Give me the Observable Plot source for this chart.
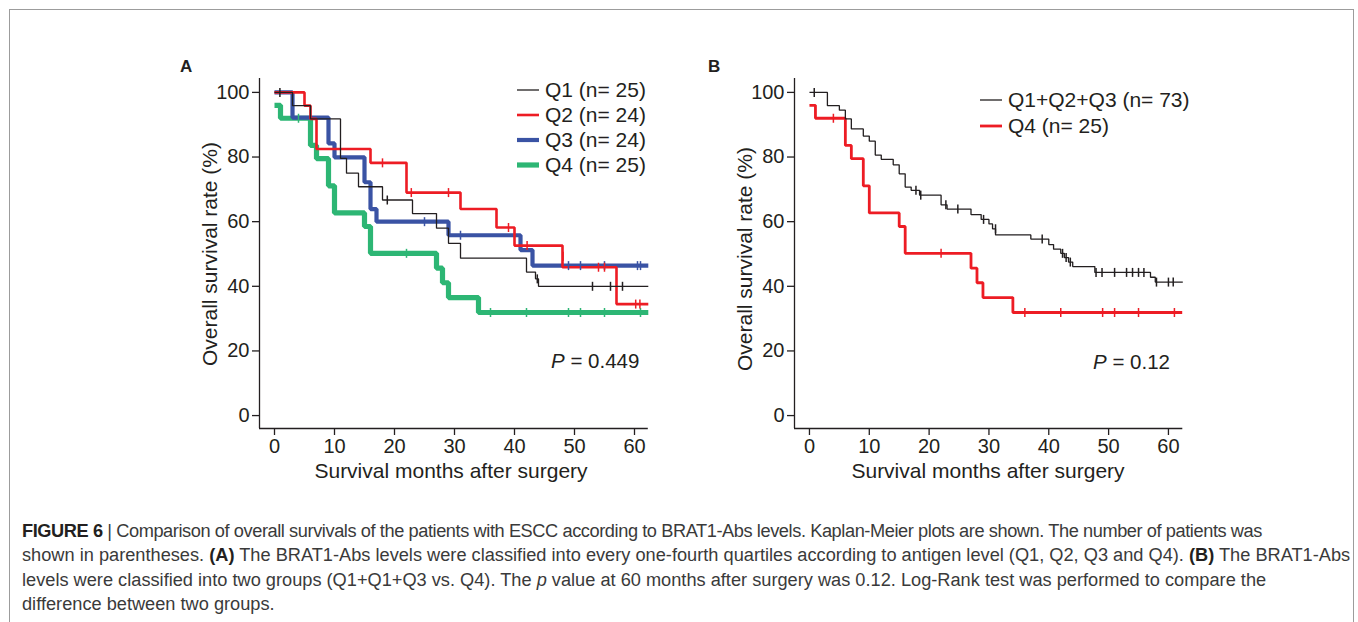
<!DOCTYPE html>
<html>
<head>
<meta charset="utf-8">
<script src="https://cdn.jsdelivr.net/npm/d3@7"></script>
<script src="https://cdn.jsdelivr.net/npm/@observablehq/plot@0.6"></script>
<style>
  html, body { margin: 0; padding: 0; background: #fff; overflow: hidden; }
  #page { position: relative; width: 1358px; height: 622px; overflow: hidden; font-family: "Liberation Sans", Arial, sans-serif; color: #231f20; }
  #frame { position: absolute; left: 9px; top: 9px; width: 1343px; height: 700px; border: 1px solid #9c9c9c; }
  .panel { position: absolute; top: 50px; width: 500px; height: 440px; }
  .txt { position: absolute; white-space: nowrap; line-height: 1; color: #231f20; }
  .leg { position: absolute; display: flex; align-items: center; height: 24px; white-space: nowrap; font-size: 21px; color: #231f20; }
  .leg svg { display: block; margin-right: 6px; }
  .cap { position: absolute; white-space: nowrap; font-family: "Liberation Sans Narrow", "Arial Narrow", "Liberation Sans", sans-serif; line-height: 1; color: #3a3a3a; }
  .cap b { color: #231f20; }
  .panel svg g[aria-label="x-axis tick"], .panel svg g[aria-label="y-axis tick"] { stroke-width: 1.3; }
</style>
</head>
<body>
<div id="page">
  <div id="frame"></div>
  <div id="panelA" class="panel" style="left:160px"></div>
  <div id="panelB" class="panel" style="left:700px"></div>
</div>
<script>
// ---------- tick labels ----------
const monthTicks = [0, 10, 20, 30, 40, 50, 60];
const rateTicks = [0, 20, 40, 60, 80, 100];

// ---------- Panel A: quartiles ----------
const aNames = ["Q1 (n= 25)", "Q2 (n= 24)", "Q3 (n= 24)", "Q4 (n= 25)"];

const aQ1Time = [0, 3, 6, 11, 12, 14, 18, 23, 27, 29, 31, 42, 43.5, 44, 62.3];
const aQ1Surv = [100, 95.9, 91.8, 79.6, 75.0, 70.8, 66.7, 62.5, 58.0, 53.3, 48.7, 44.4, 42.3, 40.0, 40.0];
const aQ1CensTime = [0.9, 18.8, 43.8, 53, 56, 58];
const aQ1CensSurv = [100, 66.7, 42.3, 40.0, 40.0, 40.0];

const aQ2Time = [0, 5, 6, 7, 16, 22, 31, 37, 40, 48, 57, 62.3];
const aQ2Surv = [100, 95.9, 91.8, 82.5, 78.2, 69.0, 63.9, 58.2, 52.6, 45.9, 34.5, 34.5];
const aQ2CensTime = [18, 22.8, 29, 39, 42.1, 48.1, 54, 55, 60.2, 60.9];
const aQ2CensSurv = [78.2, 69.0, 69.0, 58.2, 52.6, 49.3, 45.9, 45.9, 34.5, 34.5];

const aQ3Time = [0, 3, 9, 10, 15, 16, 17, 29, 41, 43, 62.3];
const aQ3Surv = [100, 92.2, 84.2, 79.9, 72.2, 63.9, 60.0, 55.8, 51.2, 46.4, 46.4];
const aQ3CensTime = [25, 31, 43, 49, 51, 55, 60.5, 61];
const aQ3CensSurv = [60.0, 55.8, 48.8, 46.4, 46.4, 46.4, 46.4, 46.4];

const q4Time = [0, 1, 6, 7, 9, 10, 15, 16, 27, 28, 29, 34, 62.3];
const q4Surv = [96, 92, 83.6, 79.5, 71.1, 62.7, 58.5, 50.2, 45.6, 41.1, 36.5, 31.9, 31.9];
const q4CensTime = [4, 22, 36, 42, 49, 51, 55, 61];
const q4CensSurv = [92, 50.2, 31.9, 31.9, 31.9, 31.9, 31.9, 31.9];

// ---------- Panel B: Q1+Q2+Q3 vs Q4 ----------
const bNames = ["Q1+Q2+Q3 (n= 73)", "Q4 (n= 25)"];
const bRestTime = [0, 3, 5, 6, 7, 9, 10, 11, 12, 14, 15, 16, 17, 18.4, 22, 23, 27, 28.7, 30, 30.6, 31.1, 37, 40, 40.8, 42, 42.6, 43.3, 44, 47.7, 57, 57.8, 62.4];
const bRestSurv = [100, 95.9, 94.5, 91.8, 88.7, 86.5, 84.9, 80.6, 79.3, 77.6, 74.8, 70.7, 69.7, 68.2, 65.2, 63.9, 62.2, 60.7, 59.3, 57.8, 55.9, 54.6, 52.9, 51.5, 50.2, 48.9, 47.5, 46.1, 44.3, 42.8, 41.3, 41.3];
const bRestCensTime = [0.8, 17.8, 18.6, 22.8, 24.8, 29.1, 31.1, 38.9, 42.3, 42.9, 43.6, 47.9, 48.9, 51, 53, 54, 55, 55.9, 58, 60, 60.8];
const bRestCensSurv = [100, 69.7, 68.2, 65.2, 63.9, 60.7, 57.8, 54.6, 50.2, 48.9, 47.5, 44.3, 44.3, 44.3, 44.3, 44.3, 44.3, 44.3, 41.3, 41.3, 41.3];

const pA = "0.449";
const pB = "0.12";

// ---------- helpers ----------
const INK = "#231f20";
const toRows = (t, s) => t.map((d, i) => ({t: d, s: s[i]}));
const vbar = {draw(ctx) { ctx.moveTo(0, -4.5); ctx.lineTo(0, 4.5); }};

function survivalPlot({xDomain, yDomain, margins, series}) {
  const marks = [
    Plot.ruleX([xDomain[0]], {stroke: INK, strokeWidth: 1.3}),
    Plot.ruleY([yDomain[0]], {stroke: INK, strokeWidth: 1.3})
  ];
  for (const s of series) {
    marks.push(Plot.line(toRows(s.time, s.surv), {x: "t", y: "s", curve: "step-after", stroke: s.color, strokeWidth: s.width, strokeLinejoin: "miter", strokeLinecap: "butt"}));
  }
  for (const s of series) {
    marks.push(Plot.dot(toRows(s.censTime, s.censSurv), {x: "t", y: "s", symbol: vbar, stroke: s.color, strokeWidth: 1.5, fill: "none"}));
  }
  return Plot.plot({
    width: 500, height: 440,
    marginLeft: margins[0], marginRight: margins[1], marginTop: margins[2], marginBottom: margins[3],
    style: {fontSize: "20px", fontFamily: "'Liberation Sans', Arial, sans-serif", color: INK, background: "transparent", overflow: "visible"},
    x: {domain: xDomain, ticks: monthTicks, tickSize: 7, tickPadding: 3, label: null},
    y: {domain: yDomain, ticks: rateTicks, tickSize: 7, tickPadding: 3, label: null},
    marks
  });
}

const RED = "#ed1c24", BLUE = "#3a53a4", GREEN = "#2db674";

const aSeries = [
  {time: q4Time, surv: q4Surv, censTime: q4CensTime, censSurv: q4CensSurv, color: GREEN, width: 5.2},
  {time: aQ3Time, surv: aQ3Surv, censTime: aQ3CensTime, censSurv: aQ3CensSurv, color: BLUE, width: 4.2},
  {time: aQ2Time, surv: aQ2Surv, censTime: aQ2CensTime, censSurv: aQ2CensSurv, color: RED, width: 2.6},
  {time: aQ1Time, surv: aQ1Surv, censTime: aQ1CensTime, censSurv: aQ1CensSurv, color: INK, width: 1.3}
];
const bSeries = [
  {time: q4Time, surv: q4Surv, censTime: q4CensTime, censSurv: q4CensSurv, color: RED, width: 2.8},
  {time: bRestTime, surv: bRestSurv, censTime: bRestCensTime, censSurv: bRestCensSurv, color: INK, width: 1.3}
];

document.getElementById("panelA").appendChild(survivalPlot({
  xDomain: [-2.5, 62.3], yDomain: [-4, 104.3], margins: [99, 12.2, 28, 62], series: aSeries
}));
document.getElementById("panelB").appendChild(survivalPlot({
  xDomain: [-2.5, 62.4], yDomain: [-4, 104.3], margins: [94, 17.7, 28, 62], series: bSeries
}));

// ---------- text overlays ----------
const page = document.getElementById("page");
function place(html, x, baseline, fs, anchor = "start") {
  const d = document.createElement("div");
  d.className = "txt";
  d.innerHTML = html;
  d.style.fontSize = fs + "px";
  d.style.left = x + "px";
  d.style.top = (baseline - 0.8465 * fs) + "px";
  if (anchor === "middle") d.style.transform = "translateX(-50%)";
  page.appendChild(d);
  return d;
}
function placeRotated(text, cx, cy, fs) {
  const d = document.createElement("div");
  d.className = "txt";
  d.textContent = text;
  d.style.fontSize = fs + "px";
  d.style.left = cx + "px";
  d.style.top = cy + "px";
  d.style.transform = "translate(-50%,-50%) rotate(-90deg)";
  page.appendChild(d);
}
function legend(names, colors, widths, x, centers) {
  names.forEach((n, i) => {
    const d = document.createElement("div");
    d.className = "leg";
    d.style.left = x + "px";
    d.style.top = (centers[i] - 12) + "px";
    d.innerHTML = `<svg width="22" height="10"><line x1="0" x2="22" y1="5" y2="5" stroke="${colors[i]}" stroke-width="${widths[i]}"/></svg><span>${n}</span>`;
    page.appendChild(d);
  });
}

// panel letters
place("<b>A</b>", 180, 72, 17);
place("<b>B</b>", 708, 72, 17);
// axis titles
place("Survival months after surgery", 451, 478, 21, "middle");
place("Survival months after surgery", 988, 478, 21, "middle");
placeRotated("Overall survival rate (%)", 208.5, 254, 21);
placeRotated("Overall survival rate (%)", 743.5, 259, 21);
// p values
place(`<i>P</i> = ${pA}`, 551, 368, 20.5);
place(`<i>P</i> = ${pB}`, 1093, 369, 20.5);
// legends
legend(aNames, [INK, RED, BLUE, GREEN], [1.3, 2.6, 4.2, 5.2], 517, [90, 115, 140, 165]);
legend(bNames, [INK, RED], [1.3, 2.8], 980, [100, 126]);

// ---------- caption ----------
const capLines = [
  `<b>FIGURE 6</b> | Comparison of overall survivals of the patients with ESCC according to BRAT1-Abs levels. Kaplan-Meier plots are shown. The number of patients was`,
  `shown in parentheses. <b>(A)</b> The BRAT1-Abs levels were classified into every one-fourth quartiles according to antigen level (Q1, Q2, Q3 and Q4). <b>(B)</b> The BRAT1-Abs`,
  `levels were classified into two groups (Q1+Q1+Q3 vs. Q4). The <i>p</i> value at 60 months after surgery was 0.12. Log-Rank test was performed to compare the`,
  `difference between two groups.`
];
const capLeft = 22;
const capEnds = [1262, 1351, 1268, 276];
const capBaselines = [537, 561.5, 586, 610];
// choose font size from the longest line, then fine-fit each line
const probe = document.createElement("div");
probe.className = "cap";
probe.style.fontSize = "18px";
probe.innerHTML = capLines[1];
page.appendChild(probe);
const capFs = 18 * (capEnds[1] - capLeft) / probe.getBoundingClientRect().width;
probe.remove();
capLines.forEach((html, i) => {
  const d = document.createElement("div");
  d.className = "cap";
  d.innerHTML = html;
  d.style.fontSize = capFs + "px";
  d.style.left = capLeft + "px";
  d.style.top = (capBaselines[i] - 0.8465 * capFs) + "px";
  page.appendChild(d);
  const w = d.getBoundingClientRect().width;
  const diff = (capEnds[i] - capLeft) - w;
  if (Math.abs(diff) > 2) d.style.letterSpacing = (diff / d.textContent.length) + "px";
});
</script>
</body>
</html>
